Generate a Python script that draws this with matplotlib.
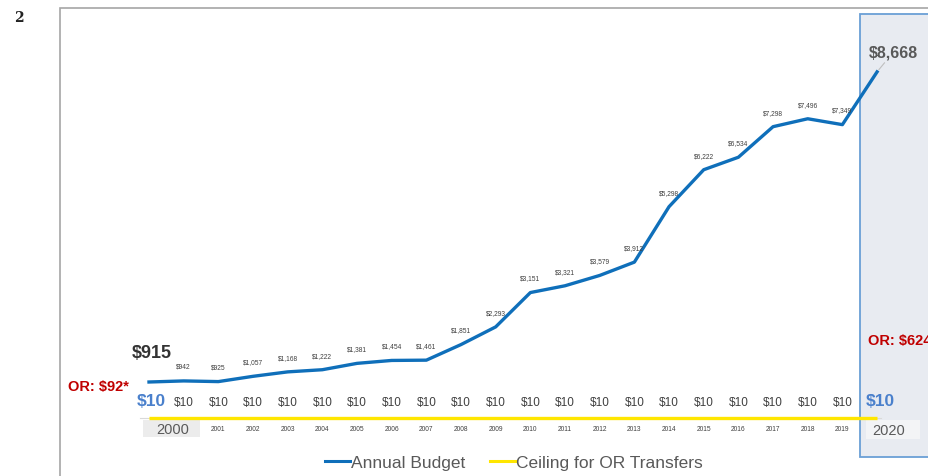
import matplotlib
matplotlib.use('Agg')
import matplotlib.pyplot as plt
from matplotlib.patches import Rectangle
from matplotlib.lines import Line2D

plt.rcParams['font.family'] = ['Liberation Sans', 'DejaVu Sans']

### data
budget = [915, 942, 925, 1057, 1168, 1222, 1381, 1454, 1461, 1851, 2293,
          3151, 3321, 3579, 3912, 5298, 6222, 6534, 7298, 7496, 7349, 8668]
budget_labels = ['$915', '$942', '$925', '$1,057', '$1,168', '$1,222', '$1,381',
                 '$1,454', '$1,461', '$1,851', '$2,293', '$3,151', '$3,321',
                 '$3,579', '$3,912', '$5,298', '$6,222', '$6,534', '$7,298',
                 '$7,496', '$7,349', '$8,668']
ceiling = [10] * 22
year_labels = ['2000', ''] + [str(y) for y in range(2001, 2020)] + ['2020']
or_first = 'OR: $92*'
or_last = 'OR: $624'

W, H = 929, 477
fig = plt.figure(figsize=(W / 100, H / 100), dpi=100)
ax = fig.add_axes([0, 0, 1, 1])
ax.axis('off')

# pixel mapping: index -> x px, value -> y px
x0, dx = 149, 34.67
y0, dy = 419.6, 0.04
ax.set_xlim((0 - x0) / dx, (W - x0) / dx)
ax.set_ylim((y0 - H) / dy, y0 / dy)

def fx(px):
    return px / W

def fy(py):
    return 1 - py / H

def row(py):
    # data y for a pixel row
    return (y0 - py) / dy

# outer frame and page number
ax.add_patch(Rectangle((fx(60), -0.1), 1.2, fy(9) + 0.1, transform=fig.transFigure,
                       fill=False, edgecolor='#a6a6a6', lw=1.2, clip_on=False, zorder=0))
fig.text(fx(14), fy(18), '2', fontsize=10, fontweight='bold', family='DejaVu Serif',
         ha='left', va='center', color='#222222')
fig.text(fx(274), fy(-10), '(', fontsize=14, ha='center', va='center', color='#444444')
fig.text(fx(575), fy(-10), ')', fontsize=14, ha='center', va='center', color='#444444')

# highlighted 2020 column and year boxes
ax.add_patch(Rectangle((fx(860), fy(458)), 0.2, fy(15) - fy(458), transform=fig.transFigure,
                       facecolor='#e8ebf1', edgecolor='#6a9fd6', lw=1.3, clip_on=False, zorder=0.2))
ax.add_patch(Rectangle((fx(143), fy(438)), fx(57), fy(421) - fy(438), transform=fig.transFigure,
                       facecolor='#ececec', edgecolor='none', zorder=0.3))
ax.add_patch(Rectangle((fx(866), fy(440)), fx(54), fy(421) - fy(440), transform=fig.transFigure,
                       facecolor='#f3f4f6', edgecolor='none', zorder=0.3))

idx = list(range(len(budget)))

# axis line and lines
ax.plot([-0.25, 21.1], [5, 5], color='#d9d9d9', lw=0.8, zorder=1)
ax.plot(idx, ceiling, color='#ffe600', lw=2.4, zorder=2, solid_capstyle='butt')
ax.plot(idx, budget, color='#0f6fba', lw=2.4, zorder=3, solid_joinstyle='round')

# budget labels
for i, (v, s) in enumerate(zip(budget, budget_labels)):
    if i == 0:
        ax.annotate(s, (i, v), xytext=(2, 15), textcoords='offset points', ha='center',
                    va='bottom', fontsize=13, fontweight='bold', color='#333333')
    elif i == len(budget) - 1:
        ax.annotate(s, (i, v), xytext=(11.5, 14), textcoords='offset points', ha='center',
                    va='center', fontsize=11.5, fontweight='bold', color='#595959',
                    arrowprops=dict(arrowstyle='-', color='#bfbfbf', lw=0.8,
                                    shrinkA=0, shrinkB=2))
    else:
        ax.annotate(s, (i, v), xytext=(0, 8), textcoords='offset points', ha='center',
                    va='bottom', fontsize=4.8, color='#404040')

# $10 ceiling labels
for i, v in enumerate(ceiling):
    if i in (0, len(ceiling) - 1):
        ax.text(i + 0.08, row(402), '$%d' % v, ha='center', va='center',
                fontsize=12.5, fontweight='bold', color='#4a80cc')
    else:
        ax.text(i, row(403), '$%d' % v, ha='center', va='center',
                fontsize=8.5, color='#404040')

# year labels
for i, s in enumerate(year_labels):
    if i == 0:
        ax.text(i + 0.67, row(430), s, ha='center', va='center',
                fontsize=10.5, color='#595959')
    elif i == len(year_labels) - 1:
        ax.text(i + 0.33, row(431), s, ha='center', va='center',
                fontsize=10.5, color='#595959')
    elif s:
        ax.text(i, row(430), s, ha='center', va='center',
                fontsize=4.8, color='#404040')

# OR annotations
fig.text(fx(68), fy(387), or_first, ha='left', va='center', fontsize=10.5,
         fontweight='bold', color='#c00000')
fig.text(fx(868), fy(341), or_last, ha='left', va='center', fontsize=10.5,
         fontweight='bold', color='#c00000')

handles = [Line2D([], [], color='#0f6fba', lw=2.2),
           Line2D([], [], color='#ffe600', lw=2.2)]
fig.legend(handles, ['Annual Budget', 'Ceiling for OR Transfers'], loc='center',
           bbox_to_anchor=(fx(514), fy(463)), ncol=2, frameon=False, fontsize=12.5,
           labelcolor='#595959', handlelength=1.45, handletextpad=0.05, columnspacing=1.45)

fig.savefig('out.png', dpi=100)
